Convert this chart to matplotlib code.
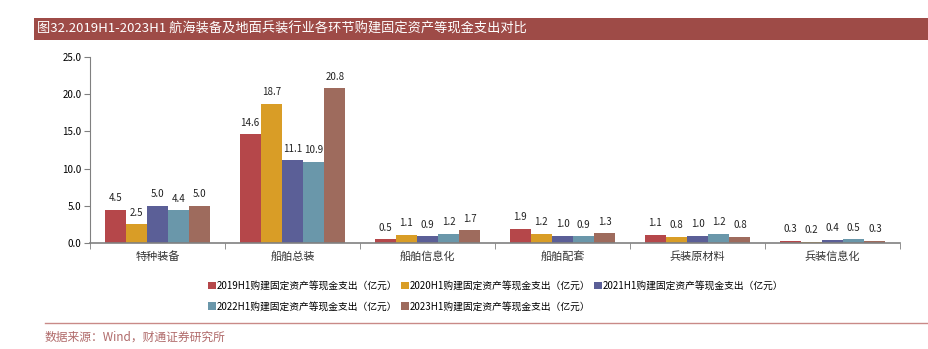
import matplotlib
matplotlib.use("Agg")
import matplotlib.pyplot as plt
import numpy as np
from matplotlib.patches import Rectangle
from matplotlib.lines import Line2D

plt.rcParams['font.family'] = ['Noto Sans CJK SC', 'DejaVu Sans']

categories = ["特种装备", "船舶总装", "船舶信息化", "船舶配套", "兵装原材料", "兵装信息化"]
series_names = [
    "2019H1购建固定资产等现金支出（亿元）",
    "2020H1购建固定资产等现金支出（亿元）",
    "2021H1购建固定资产等现金支出（亿元）",
    "2022H1购建固定资产等现金支出（亿元）",
    "2023H1购建固定资产等现金支出（亿元）",
]
v2019 = [4.5, 14.6, 0.5, 1.9, 1.1, 0.3]
v2020 = [2.5, 18.7, 1.1, 1.2, 0.8, 0.2]
v2021 = [5.0, 11.1, 0.9, 1.0, 1.0, 0.4]
v2022 = [4.4, 10.9, 1.2, 0.9, 1.2, 0.5]
v2023 = [5.0, 20.8, 1.7, 1.3, 0.8, 0.3]
series = [v2019, v2020, v2021, v2022, v2023]
colors = ["#b5474a", "#d99d26", "#5b5f97", "#6a97aa", "#9e6b5d"]

W, H = 929, 349
fig = plt.figure(figsize=(W / 100, H / 100), dpi=100)

# Title banner
fig.patches.append(Rectangle((34 / W, 1 - 40 / H), 1 - 34 / W, 22 / H,
                             transform=fig.transFigure, facecolor="#9e4b47",
                             edgecolor="none", zorder=0))
fig.text(37 / W, 1 - 29.5 / H,
         "图32.2019H1-2023H1 航海装备及地面兵装行业各环节购建固定资产等现金支出对比",
         color="white", fontsize=9.5, va="center", ha="left")

ax = fig.add_axes([90 / W, 1 - 243 / H, 810 / W, 186 / H])
n = len(categories)
x = np.arange(n)
w = 0.157
for i, (vals, c, name) in enumerate(zip(series, colors, series_names)):
    pos = x + (i - 2) * w
    ax.bar(pos, vals, width=w, color=c, label=name, zorder=2)
    for p, v in zip(pos, vals):
        ax.text(p, v + 0.9, f"{v:.1f}", ha="center", va="bottom", fontsize=7, color="#222222")

ax.set_xlim(-0.5, n - 0.5)
ax.set_ylim(0, 25)
ax.set_yticks(np.arange(0, 26, 5))
ax.set_yticklabels([f"{t:.1f}" for t in np.arange(0, 26, 5)], fontsize=7)
ax.set_xticks(x)
ax.set_xticklabels(categories, fontsize=8, color="#333333")
ax.tick_params(axis="x", length=0, pad=6)
ax.set_xticks(np.arange(-0.5, n, 1), minor=True)
ax.tick_params(axis="x", which="minor", length=4, color="#808080", direction="out")
ax.tick_params(axis="y", length=4, color="#808080", direction="out", pad=2)
for s in ["top", "right"]:
    ax.spines[s].set_visible(False)
ax.spines["left"].set_color("#808080")
ax.spines["bottom"].set_color("#808080")
ax.spines["bottom"].set_linewidth(1.2)

handles, labels = ax.get_legend_handles_labels()
order = [0, 3, 1, 4, 2]
fig.legend([handles[k] for k in order], [labels[k] for k in order],
           loc="upper left", bbox_to_anchor=(199 / W, 1 - 272 / H),
           ncol=3, frameon=False, fontsize=7, handlelength=0.8, handleheight=0.8,
           handletextpad=0.1, columnspacing=0.4, labelspacing=1.1)

# Footer rule and source
fig.add_artist(Line2D([45 / W, 1], [1 - 323 / H, 1 - 323 / H],
                      transform=fig.transFigure, color="#c98a88", linewidth=1))
fig.text(45 / W, 1 - 337 / H, "数据来源：Wind，财通证券研究所",
         color="#b06a6a", fontsize=8.5, va="center", ha="left")

fig.savefig("out.png", dpi=100)
